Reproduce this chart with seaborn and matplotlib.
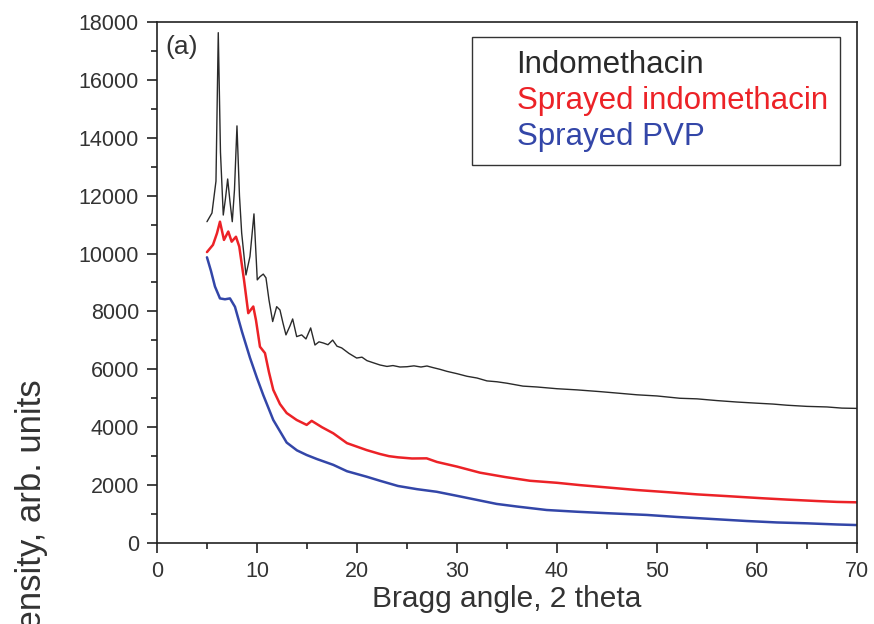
import matplotlib
matplotlib.use("Agg")
import matplotlib.pyplot as plt
import numpy as np
import pandas as pd
import seaborn as sns
from matplotlib.ticker import MultipleLocator

# --- Donnees (2 theta, intensite) ---
x_indo = [5.0, 5.5, 5.9, 6.13, 6.35, 6.63, 6.85, 7.07, 7.3, 7.53, 7.75, 8.0, 8.25, 8.47, 8.9,
          9.3, 9.7, 10.03, 10.3, 10.63, 10.9, 11.2, 11.57, 11.97, 12.3, 12.6, 12.9, 13.3, 13.57,
          13.97, 14.47, 14.9, 15.37, 15.8, 16.2, 16.63, 17.1, 17.57, 18.0, 18.47, 19.2, 19.97,
          20.5, 21.0, 21.6, 22.3, 23.0, 23.6, 24.3, 25.0, 25.7, 26.4, 27.0, 27.6, 28.3, 29.0,
          30.0, 31.0, 32.0, 33.0, 34.0, 35.0, 36.6, 38.0, 40.0, 42.0, 44.3, 46.0, 48.0, 50.0,
          52.3, 54.0, 56.0, 58.0, 60.0, 61.6, 63.0, 65.0, 67.0, 68.5, 70.0]
y_indo = [11100, 11400, 12500, 17630, 13500, 11330, 11900, 12575, 11800, 11100, 12200, 14410,
          12000, 10710, 9260, 9900, 11370, 9090, 9200, 9290, 9160, 8400, 7650, 8165, 8050, 7600,
          7190, 7500, 7740, 7130, 7190, 7050, 7430, 6840, 6950, 6910, 6850, 7010, 6800, 6740,
          6550, 6390, 6420, 6300, 6230, 6150, 6100, 6130, 6080, 6090, 6120, 6080, 6115, 6060,
          6000, 5930, 5850, 5760, 5700, 5600, 5570, 5520, 5420, 5390, 5330, 5290, 5230, 5180,
          5120, 5080, 5000, 4980, 4920, 4870, 4830, 4800, 4760, 4720, 4700, 4660, 4650]

x_spr = [5.0, 5.6, 6.0, 6.3, 6.7, 7.13, 7.47, 7.9, 8.23, 8.7, 9.13, 9.63, 9.9, 10.3, 10.8, 11.2,
         11.63, 12.3, 12.97, 13.97, 14.97, 15.47, 16.5, 17.63, 19.0, 20.97, 22.3, 23.2, 24.1,
         25.5, 26.97, 28.0, 30.0, 32.3, 34.8, 37.3, 40.0, 42.3, 45.0, 48.0, 51.3, 54.0, 57.0,
         60.6, 63.0, 66.0, 68.0, 70.0]
y_spr = [10050, 10300, 10700, 11100, 10470, 10760, 10410, 10580, 10240, 9100, 7940, 8170, 7700,
         6780, 6560, 5900, 5290, 4800, 4490, 4250, 4080, 4220, 4000, 3790, 3450, 3210, 3075, 3000,
         2960, 2920, 2925, 2800, 2640, 2430, 2280, 2150, 2080, 2000, 1920, 1830, 1750, 1680,
         1620, 1545, 1500, 1450, 1420, 1405]

x_pvp = [5.0, 5.4, 5.8, 6.3, 6.8, 7.3, 7.8, 8.5, 9.3, 10.0, 10.63, 11.63, 12.97, 14.0, 14.97,
         16.0, 17.63, 19.0, 20.97, 22.3, 24.1, 26.0, 27.97, 30.0, 33.97, 36.0, 38.97, 42.0, 45.0,
         48.97, 52.0, 55.0, 58.97, 62.0, 65.0, 68.0, 70.0]
y_pvp = [9870, 9400, 8860, 8450, 8420, 8450, 8160, 7300, 6400, 5700, 5110, 4250, 3470, 3200,
         3040, 2900, 2700, 2480, 2290, 2150, 1970, 1860, 1770, 1630, 1350, 1260, 1140, 1080,
         1030, 970, 900, 840, 760, 710, 680, 640, 620]

series = ["Indomethacin", "Sprayed indomethacin", "Sprayed PVP"]
couleurs = {"Indomethacin": "#2a2a2a", "Sprayed indomethacin": "#ec2227", "Sprayed PVP": "#3346a8"}
epaisseurs = {"Indomethacin": 1.0, "Sprayed indomethacin": 1.8, "Sprayed PVP": 1.8}

df = pd.concat([
    pd.DataFrame({"angle": x_indo, "intensite": y_indo, "echantillon": series[0]}),
    pd.DataFrame({"angle": x_spr, "intensite": y_spr, "echantillon": series[1]}),
    pd.DataFrame({"angle": x_pvp, "intensite": y_pvp, "echantillon": series[2]}),
], ignore_index=True)

sns.set_style("ticks")
plt.rcParams["font.family"] = ["Liberation Sans", "DejaVu Sans"]

fig = plt.figure(figsize=(8.74, 6.24), dpi=100)
ax = fig.add_axes([0.1796, 0.1298, 0.8009, 0.835])

sns.lineplot(data=df, x="angle", y="intensite", hue="echantillon", hue_order=series,
             palette=couleurs, sort=False, estimator=None, ax=ax)
for line, nom in zip(ax.lines, series):
    line.set_linewidth(epaisseurs[nom])

ax.set_xlim(0, 70)
ax.set_ylim(0, 18000)
ax.xaxis.set_major_locator(MultipleLocator(10))
ax.xaxis.set_minor_locator(MultipleLocator(5))
ax.yaxis.set_major_locator(MultipleLocator(2000))
ax.yaxis.set_minor_locator(MultipleLocator(1000))
ax.tick_params(which="both", direction="out", top=False, right=False, width=1.2,
               colors="#222222", labelcolor="#333333")
ax.tick_params(which="major", length=7, labelsize=15.5, pad=6)
ax.tick_params(which="minor", length=4)
for sp in ax.spines.values():
    sp.set_linewidth(1.2)
    sp.set_color("#222222")

ax.set_xlabel("Bragg angle, 2 theta", fontsize=21.5, color="#333333", labelpad=2)
ax.set_ylabel("")
# etiquette Y coupee en bas, comme sur la figure d'origine
fig.text(0.036, 0.16, "Intensity, arb. units", rotation=90, ha="center", va="center",
         fontsize=25, color="#333333")
ax.text(0.012, 0.975, "(a)", transform=ax.transAxes, ha="left", va="top",
        fontsize=19, color="#333333")

handles, labels = ax.get_legend_handles_labels()
leg = ax.legend(handles, labels, loc="upper right", bbox_to_anchor=(0.976, 0.971),
                borderaxespad=0, fontsize=22.5, handlelength=1.03, handletextpad=0,
                labelspacing=0.2, borderpad=0.4, fancybox=False, framealpha=1,
                edgecolor="#333333")
leg.get_frame().set_linewidth(1.0)
for txt, h in zip(leg.get_texts(), leg.legend_handles):
    txt.set_color(h.get_color())
    h.set_visible(False)

fig.savefig("out.png", dpi=100)
